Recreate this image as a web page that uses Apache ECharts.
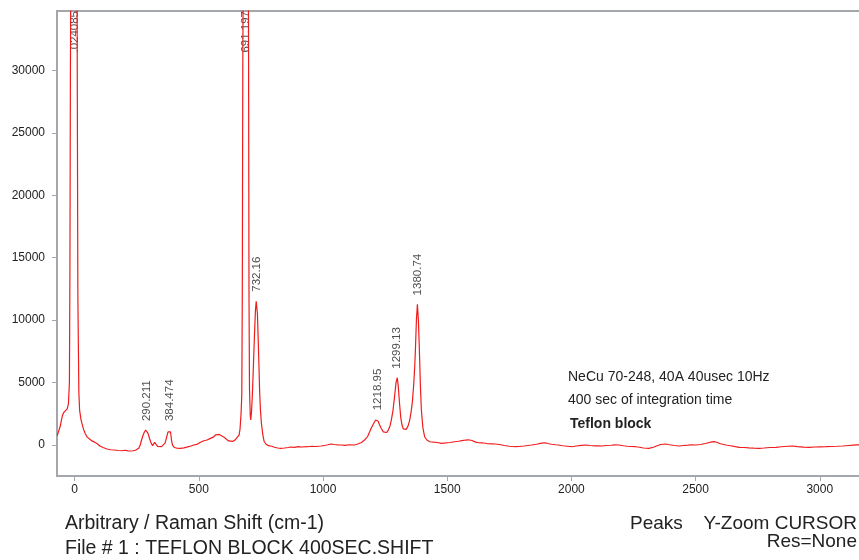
<!DOCTYPE html>
<html>
<head>
<meta charset="utf-8">
<script src="https://cdn.jsdelivr.net/npm/echarts@6/dist/echarts.min.js"></script>
<style>
  html, body { margin: 0; padding: 0; background: #fff; }
  #main { width: 859px; height: 560px; }
</style>
</head>
<body>
<div id="main"></div>
<script>
// Raman shift (cm-1) and intensity
const shiftX = [
  -70, -65, -58, -50, -44, -36, -30, -25, -21, -19, -17, -12, -3, 6, 10, 13, 17, 20, 25, 29,
  36, 43, 50, 60, 70, 80, 90, 103, 115, 130, 145, 160, 175, 190, 205, 215, 224, 235, 245, 252,
  258, 264, 268, 274, 280, 286, 290, 295, 302, 308, 314, 318, 322, 326, 330, 335, 342, 350, 358, 364,
  370, 376, 382, 386, 390, 394, 402, 412, 426, 440, 455, 468, 480, 492, 505, 520, 533, 547, 560, 568,
  575, 582, 590, 600, 610, 620, 628, 638, 648, 655, 662, 666, 670, 673, 675, 677, 681, 689, 696, 700,
  702, 704, 707, 709, 712, 716, 720, 724, 728, 731, 733, 736, 739, 742, 745, 748, 752, 757, 763,
  770, 780, 790, 805, 818, 829, 845, 860, 870, 884, 900, 915, 938, 955, 970, 992, 1010, 1020, 1032, 1045,
  1060, 1073, 1090, 1105, 1126, 1140, 1155, 1167, 1180, 1194, 1206, 1212, 1217, 1222, 1228, 1234, 1243, 1250, 1256, 1263,
  1270, 1275, 1282, 1288, 1294, 1299, 1303, 1308, 1313, 1318, 1323, 1328, 1335, 1342, 1349, 1355, 1360, 1365, 1369, 1372,
  1376, 1380, 1384, 1388, 1392, 1396, 1402, 1409, 1418, 1430, 1445, 1460, 1477, 1495, 1510, 1530, 1545, 1560, 1575, 1585,
  1600, 1612, 1625, 1640, 1660, 1680, 1692, 1710, 1730, 1750, 1773, 1790, 1810, 1825, 1840, 1860, 1880, 1894, 1905, 1920,
  1935, 1948, 1965, 1985, 2002, 2020, 2040, 2056, 2075, 2095, 2110, 2123, 2140, 2160, 2175, 2191, 2210, 2225, 2240, 2258,
  2275, 2290, 2312, 2330, 2345, 2360, 2379, 2395, 2415, 2433, 2450, 2470, 2485, 2500, 2520, 2540, 2555, 2565, 2575, 2585,
  2600, 2622, 2640, 2660, 2676, 2695, 2715, 2735, 2756, 2775, 2800, 2824, 2845, 2870, 2891, 2910, 2935, 2958, 2980, 3000,
  3025, 3045, 3070, 3093, 3115, 3135, 3150, 3170
];
const intensity = [
  750, 800, 1500, 2300, 2600, 2750, 2900, 3300, 5000, 14000, 30000, 52000, 60000, 52000, 34000, 12000, 4200, 2800, 2100, 1760,
  1250, 900, 650, 480, 330, 230, 120, -100, -200, -320, -380, -400, -440, -460, -420, -470, -480, -460, -420, -330,
  -250, 0, 300, 700, 1000, 1200, 1180, 950, 500, 150, -50, 50, 220, 280, 120, -120, -150, -130, -50, 150,
  600, 1050, 1200, 1050, 400, 0, -200, -260, -270, -230, -150, -80, 0, 50, 200, 340, 400, 530, 650, 820,
  930, 850, 760, 650, 480, 330, 270, 300, 450, 540, 800, 1300, 2500, 4000, 12000, 30000, 50000, 60000, 50000, 34000,
  12000, 4500, 2400, 2000, 2600, 4200, 6500, 8800, 10800, 11500, 11550, 10500, 8500, 6400, 4200, 2800, 1740, 900, 280,
  80, -50, -80, -180, -240, -264, -240, -200, -160, -184, -130, -160, -136, -100, -120, -80, -20, 20, 80, 40,
  10, 0, -30, 20, 0, 80, 200, 400, 700, 1340, 1800, 2000, 2060, 1900, 1600, 1340, 1050, 985, 1000, 1200,
  1550, 2000, 2800, 3870, 5000, 5390, 4700, 3340, 2200, 1600, 1300, 1200, 1250, 1500, 2000, 2700, 3500, 4800, 6200, 7600,
  10000, 11260, 10000, 7600, 4800, 2800, 1400, 665, 400, 264, 230, 200, 136, 170, 200, 264, 300, 350, 400, 420,
  360, 250, 184, 180, 120, 100, 80, 40, -40, -100, -136, -120, -80, -40, 0, 60, 150, 184, 120, 60,
  20, 0, -60, -100, -136, -80, -30, 0, -40, -70, -60, -80, -40, -20, 10, 0, -60, -100, -120, -136,
  -180, -240, -264, -180, -60, 40, 80, 20, -40, -80, -40, -10, 20, 0, 40, 120, 200, 250, 270, 220,
  100, 0, -60, -130, -184, -200, -230, -250, -264, -240, -200, -184, -140, -100, -80, -130, -170, -184, -160, -150,
  -136, -120, -100, -80, -40, -10, 10, 0
];

// labelled peaks
const peakX = [290.211, 384.474, 732.16, 1218.95, 1299.13, 1380.74];
const peakY = [1200, 1200, 11550, 2060, 5390, 11260];
const peakText = ['290.211', '384.474', '732.16', '1218.95', '1299.13', '1380.74'];
// peaks that run off the top (labels clipped at the frame)
const topPeakX = [0, 691.197];
const topPeakText = ['.024085', '691.197'];

const xTicks = [0, 500, 1000, 1500, 2000, 2500, 3000];
const yTicks = [0, 5000, 10000, 15000, 20000, 25000, 30000];

const xMin = -71, xMax = 3170;
const yMin = -2480, yMax = 34750;

const axisGray = '#a3a7ab';
const font = '"Liberation Sans", Arial, sans-serif';

const chart = echarts.init(document.getElementById('main'), null, { renderer: 'canvas' });

const spectrum = shiftX.map((x, i) => [x, intensity[i]]);
const peaks = peakX.map((x, i) => ({ value: [x, peakY[i]], name: peakText[i] }));
const topPeaks = topPeakX.map((x, i) => ({ value: [x, yMax], name: topPeakText[i] }));

const option = {
  animation: false,
  textStyle: { fontFamily: font },
  grid: {
    left: 57, top: 11, right: -3, bottom: 84,
    show: true, borderColor: axisGray, borderWidth: 2,
    outerBoundsMode: 'none'
  },
  xAxis: {
    type: 'value', min: xMin, max: xMax,
    axisLine: { onZero: false, lineStyle: { color: axisGray, width: 2 } },
    axisTick: { customValues: xTicks, length: 5, lineStyle: { color: axisGray, width: 1 } },
    axisLabel: { customValues: xTicks, color: '#222', fontSize: 12, margin: 8, formatter: v => String(v) },
    splitLine: { show: false }
  },
  yAxis: {
    type: 'value', min: yMin, max: yMax,
    axisLine: { show: true, onZero: false, lineStyle: { color: axisGray, width: 2 } },
    axisTick: { show: true, customValues: yTicks, length: 5, lineStyle: { color: axisGray, width: 1 } },
    axisLabel: { customValues: yTicks, color: '#222', fontSize: 12, margin: 12, formatter: v => String(v) },
    splitLine: { show: false }
  },
  series: [
    {
      type: 'line',
      data: spectrum,
      showSymbol: false,
      clip: true,
      lineStyle: { color: '#f01c1c', width: 1.2 }
    },
    {
      type: 'scatter',
      data: peaks,
      symbolSize: 0,
      label: {
        show: true, position: 'top', distance: 9,
        rotate: 90, align: 'left', verticalAlign: 'middle',
        formatter: p => p.name, color: '#222', fontSize: 11.5
      }
    },
    {
      type: 'scatter',
      data: topPeaks,
      symbolSize: 0,
      clip: false,
      label: {
        show: true, position: 'inside',
        rotate: 90, align: 'right', verticalAlign: 'middle',
        formatter: p => p.name, color: '#222', fontSize: 11.5
      }
    }
  ],
  graphic: [
    { type: 'text', left: 568, top: 370, style: { text: 'NeCu 70-248, 40A 40usec 10Hz', font: '14px ' + font, fill: '#222' } },
    { type: 'text', left: 568, top: 393, style: { text: '400 sec of integration time', font: '14px ' + font, fill: '#222' } },
    { type: 'text', left: 570, top: 417, style: { text: 'Teflon block', font: 'bold 14px ' + font, fill: '#222' } },
    { type: 'text', left: 65, top: 514, style: { text: 'Arbitrary / Raman Shift (cm-1)', font: '19.5px ' + font, fill: '#222' } },
    { type: 'text', left: 65, top: 539, style: { text: 'File # 1 : TEFLON BLOCK 400SEC.SHIFT', font: '19.5px ' + font, fill: '#222' } },
    { type: 'text', left: 630, top: 514, style: { text: 'Peaks', font: '19px ' + font, fill: '#222' } },
    { type: 'text', right: 2, top: 514, style: { text: 'Y-Zoom CURSOR', font: '19px ' + font, fill: '#222' } },
    { type: 'text', right: 2, top: 532, style: { text: 'Res=None', font: '19px ' + font, fill: '#222' } }
  ]
};

chart.setOption(option);
</script>
</body>
</html>
